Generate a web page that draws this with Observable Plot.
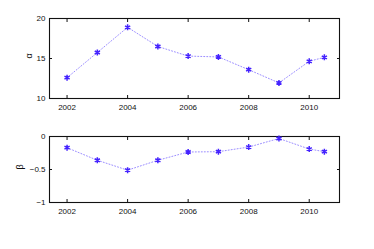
<!DOCTYPE html>
<html><head><meta charset="utf-8">
<script src="https://cdn.jsdelivr.net/npm/d3@7"></script>
<script src="https://cdn.jsdelivr.net/npm/@observablehq/plot@0.6"></script>
<style>
body{margin:0;background:#fff;}
#c{width:374px;height:249px;}
svg{display:block;}
</style></head><body><div id="c"></div>
<script>
const years = [2002, 2003, 2004, 2005, 2006, 2007, 2008, 2009, 2010, 2010.5];
const alpha = [12.6, 15.75, 18.9, 16.5, 15.3, 15.2, 13.6, 11.95, 14.65, 15.15];
const beta = [-0.17, -0.36, -0.51, -0.36, -0.235, -0.23, -0.16, -0.03, -0.19, -0.23];
const xTicks = [2002, 2004, 2006, 2008, 2010];
const alphaTicks = [10, 15, 20];
const betaTicks = [-1, -0.5, 0];

const font = "Liberation Sans, Arial, sans-serif";
const lineColor = "#9080ff";
const markColor = "#4422ff";

function panel(vals, yTicks, yDomain, label, h, mt, mb, labelDx) {
  const data = years.map((x, i) => ({x, y: vals[i]}));
  return Plot.plot({
    width: 374, height: h,
    marginLeft: 49, marginRight: 35, marginTop: mt, marginBottom: mb,
    style: {fontFamily: font, fontSize: "8px", color: "#111", background: "white"},
    x: {domain: [2001.42, 2011]},
    y: {domain: yDomain},
    marks: [
      Plot.frame({stroke: "#111", strokeWidth: 1.1}),
      Plot.axisX(xTicks, {anchor: "bottom", tickSize: -3, tickPadding: 9, tickFormat: d => String(d), label: null}),
      Plot.axisX(xTicks, {anchor: "top", tickSize: -3, tickFormat: () => "", label: null}),
      Plot.axisY(yTicks, {anchor: "left", tickSize: -3, tickPadding: 7, tickFormat: d => d < 0 ? "\u2212" + Math.abs(d) : String(d), label: null}),
      Plot.axisY(yTicks, {anchor: "right", tickSize: -3, tickFormat: () => "", label: null}),
      Plot.line(data, {x: "x", y: "y", stroke: lineColor, strokeWidth: 0.9, strokeDasharray: "1,2"}),
      Plot.dot(data, {x: "x", y: "y", symbol: "asterisk", r: 2.8, stroke: markColor, strokeWidth: 1.5}),
      Plot.text([label], {frameAnchor: "left", dx: labelDx, rotate: -90, text: d => d, fontSize: 9})
    ]
  });
}

const c = document.getElementById("c");
c.appendChild(panel(alpha, alphaTicks, [10, 20], "α", 125, 18, 27, -20));
c.appendChild(panel(beta, betaTicks, [-1, 0], "β", 124, 11, 47, -29));
</script></body></html>
